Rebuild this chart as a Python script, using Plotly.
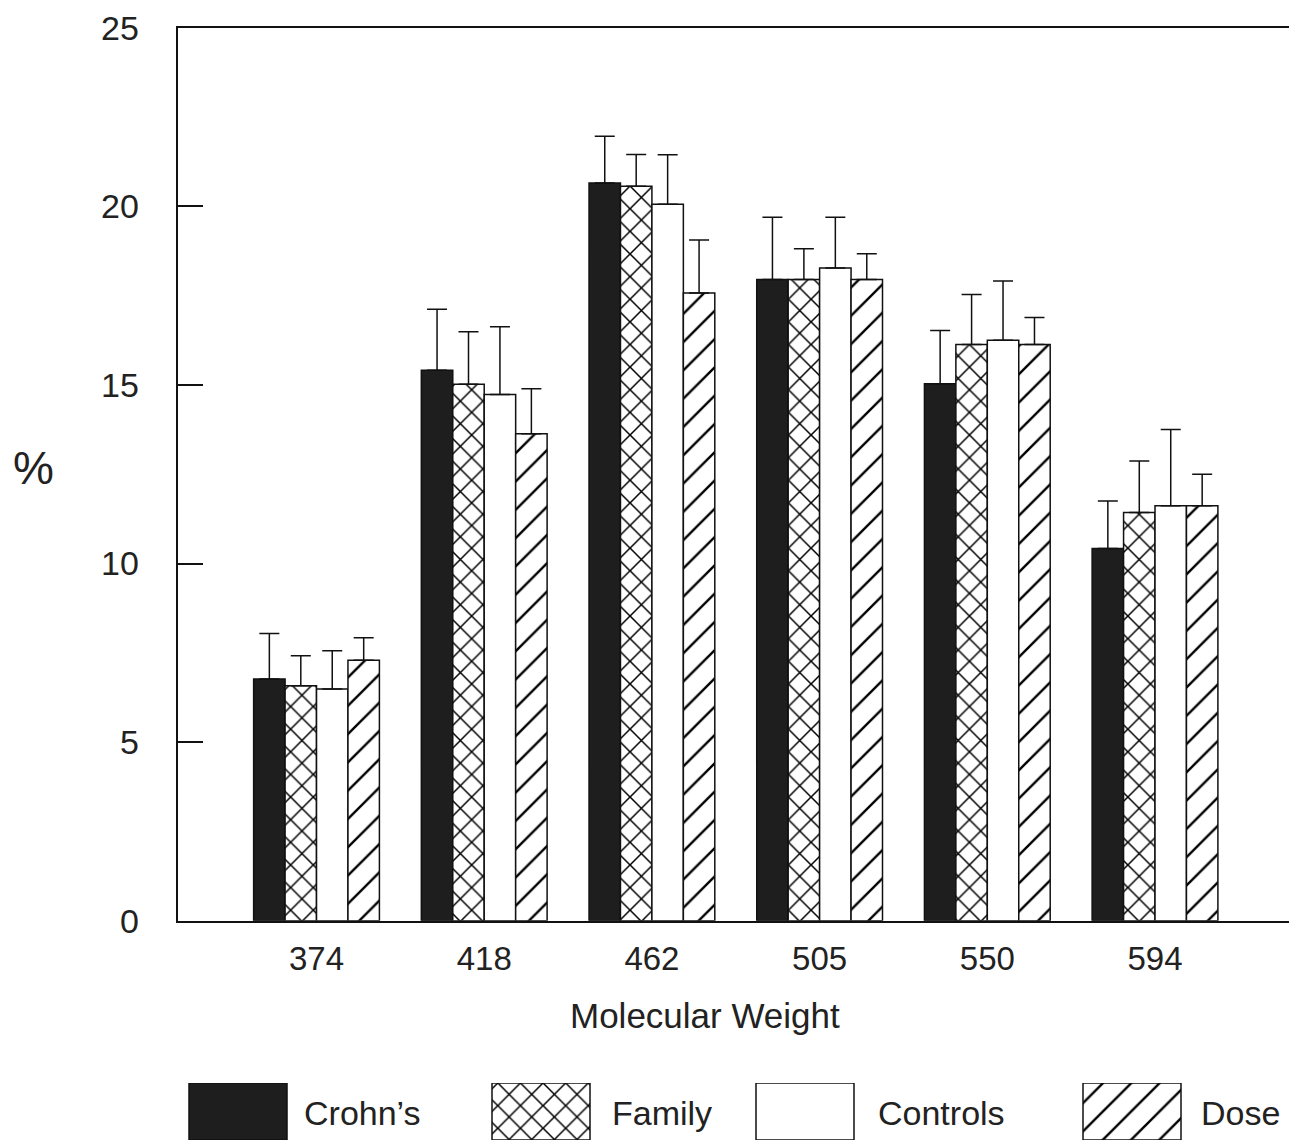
import plotly.graph_objects as go

# ---- data ----
categories = ["374", "418", "462", "505", "550", "594"]
crohns = [6.77, 15.41, 20.65, 17.95, 15.03, 10.42]
crohns_err = [1.27, 1.71, 1.31, 1.74, 1.49, 1.33]
family = [6.58, 15.02, 20.56, 17.95, 16.13, 11.43]
family_err = [0.84, 1.47, 0.89, 0.86, 1.40, 1.44]
controls = [6.49, 14.73, 20.06, 18.27, 16.25, 11.62]
controls_err = [1.07, 1.90, 1.38, 1.42, 1.66, 2.13]
dose = [7.29, 13.63, 17.57, 17.95, 16.13, 11.62]
dose_err = [0.63, 1.26, 1.49, 0.72, 0.76, 0.88]
series_names = ["Crohn\u2019s", "Family", "Controls", "Dose"]
y_ticks = [0, 5, 10, 15, 20, 25]

W, H = 1289, 1143
FONT = "Liberation Sans, Arial, Helvetica, sans-serif"
INK = "#111111"
TXT = "#222222"

styles = [
    dict(color="#1e1e1e", line=dict(color=INK, width=1.5)),
    dict(color="white", line=dict(color=INK, width=1.5),
         pattern=dict(shape="x", size=16, solidity=0.18, fgcolor="#000000", bgcolor="white",
                      fgopacity=1, fillmode="replace")),
    dict(color="white", line=dict(color=INK, width=1.5)),
    dict(color="white", line=dict(color=INK, width=1.5),
         pattern=dict(shape="/", size=20, solidity=0.12, fgcolor="#000000", bgcolor="white",
                      fgopacity=1, fillmode="replace")),
]

fig = go.Figure()
for name, st, vals, errs in zip(series_names, styles, [crohns, family, controls, dose],
                                [crohns_err, family_err, controls_err, dose_err]):
    fig.add_trace(go.Bar(
        x=categories, y=vals, name=name, marker=st,
        error_y=dict(type="data", array=errs, arrayminus=[0] * len(errs),
                     symmetric=False, color=INK, thickness=1.5, width=10),
        showlegend=False,
    ))

# ---- custom legend swatches (large boxes as in the reference) ----
legend_x = [238, 541, 805, 1132]      # swatch centres in pixels
legend_label_x = [302, 610, 876, 1199]
for name, st, cx in zip(series_names, styles, legend_x):
    fig.add_trace(go.Bar(x=[cx], y=[1], width=[98], marker=st, xaxis="x2", yaxis="y2",
                         showlegend=False, hoverinfo="skip"))
for name, lx in zip(series_names, legend_label_x):
    fig.add_annotation(text=name, x=lx / W, y=1 - 1113 / H, xref="paper", yref="paper",
                       xanchor="left", yanchor="middle", showarrow=False,
                       font=dict(family=FONT, size=34, color=TXT))

x0 = 177.5 / W
fig.update_layout(
    width=W, height=H,
    margin=dict(l=0, r=0, t=0, b=0, autoexpand=False),
    paper_bgcolor="white", plot_bgcolor="white",
    barmode="group", bargap=0.25, bargroupgap=0,
    xaxis=dict(domain=[x0, 1.0], type="category", range=[-0.829, 5.799],
               showline=True, linecolor=INK, linewidth=1.5, mirror=True,
               ticks="", showgrid=False, zeroline=False, automargin=False,
               tickfont=dict(family=FONT, size=33, color=TXT), ticklabelstandoff=8,
               anchor="y"),
    yaxis=dict(domain=[(H - 920.7) / H, (H - 27.7) / H], range=[0, 25],
               tickvals=y_ticks, ticktext=[str(v) for v in y_ticks],
               showline=True, linecolor=INK, linewidth=1.5,
               ticks="inside", ticklen=26, tickwidth=1.5, tickcolor=INK,
               showgrid=False, zeroline=False, automargin=False,
               tickfont=dict(family=FONT, size=34, color=TXT), ticklabelstandoff=30,
               anchor="x"),
    xaxis2=dict(domain=[0, 1], range=[0, W], visible=False, anchor="y2", automargin=False),
    yaxis2=dict(domain=[(H - 1140) / H, (H - 1083) / H], range=[0, 1], visible=False,
                anchor="x2", automargin=False),
)

fig.add_annotation(text="%", x=33 / W, y=1 - 468 / H, xref="paper", yref="paper",
                   xanchor="center", yanchor="middle",
                   showarrow=False, font=dict(family=FONT, size=46, color=TXT))
fig.add_annotation(text="Molecular Weight", x=705 / W, y=1 - 1015 / H, xref="paper", yref="paper",
                   xanchor="center", yanchor="middle",
                   showarrow=False, font=dict(family=FONT, size=35, color=TXT))

fig.write_html("out.html", config={"displayModeBar": False},
               post_script="document.body.style.margin='0';document.body.style.overflow='hidden';")
